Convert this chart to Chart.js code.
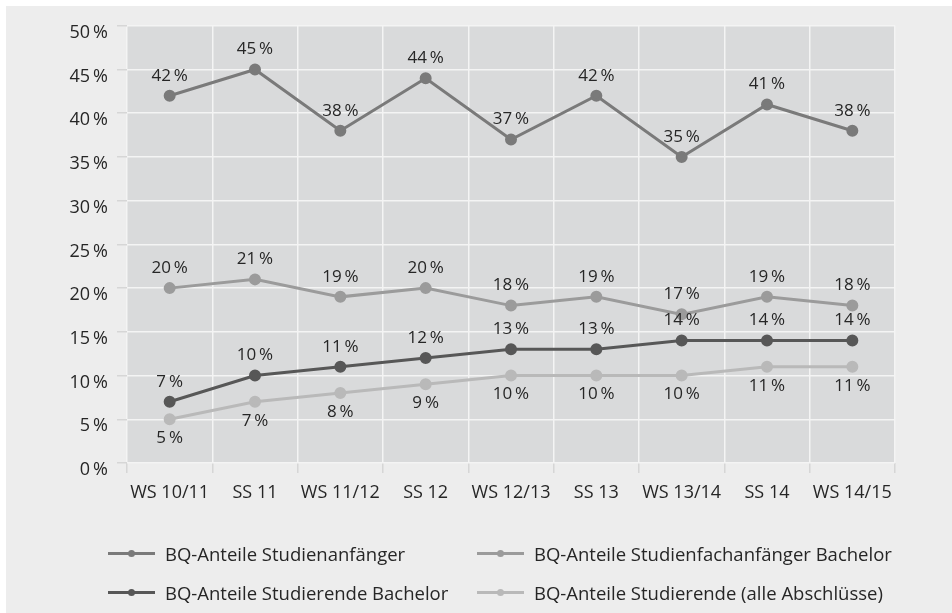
<!DOCTYPE html>
<html><head><meta charset="utf-8">
<script src="https://cdn.jsdelivr.net/npm/chart.js@4"></script>
<style>
html,body{margin:0;padding:0;background:#fff;width:952px;height:613px;overflow:hidden;}
#panel{position:absolute;left:6px;top:6px;width:946px;height:607px;background:#ededed;}
#c{position:absolute;left:0;top:0;}
.leg{position:absolute;font-family:"Open Sans",sans-serif;font-size:18.5px;color:#262626;white-space:nowrap;}
.leg .ln{position:absolute;left:0;top:50%;width:47px;height:3px;margin-top:-1.5px;}
.leg .dt{position:absolute;left:20px;top:50%;width:7px;height:7px;margin-top:-3.5px;border-radius:50%;}
.leg .tx{position:absolute;left:57px;top:50%;transform:translateY(-50%);}
</style></head>
<body>
<div id="panel"><canvas id="c" width="946" height="607"></canvas><div id="legend"></div></div>
<script>
const categories = ["WS 10/11","SS 11","WS 11/12","SS 12","WS 12/13","SS 13","WS 13/14","SS 14","WS 14/15"];
const studienanfaenger = [42,45,38,44,37,42,35,41,38];
const fachanfaengerBachelor = [20,21,19,20,18,19,17,19,18];
const studierendeBachelor = [7,10,11,12,13,13,14,14,14];
const studierendeAlle = [5,7,8,9,10,10,10,11,11];
const seriesNames = ["BQ-Anteile Studienanfänger","BQ-Anteile Studienfachanfänger Bachelor","BQ-Anteile Studierende Bachelor","BQ-Anteile Studierende (alle Abschlüsse)"];
const seriesColors = ["#7a7a7a","#9b9b9b","#575757","#b9b9b9"];
const labelBelow = [false,false,false,true];
const allValues = [studienanfaenger,fachanfaengerBachelor,studierendeBachelor,studierendeAlle];

const FONT = '"Open Sans", sans-serif';
const TXT = '#262626';

const bgPlugin = {
  id:'plotBg',
  beforeDraw(chart){
    const {ctx, chartArea:a} = chart;
    ctx.save(); ctx.fillStyle='#d9dadb';
    ctx.fillRect(a.left,a.top,a.right-a.left,a.bottom-a.top);
    ctx.restore();
  }
};
const labelPlugin = {
  id:'valLabels',
  afterDatasetsDraw(chart){
    const ctx = chart.ctx;
    ctx.save();
    ctx.font = '17px ' + FONT;
    ctx.fillStyle = TXT;
    ctx.textAlign='center'; ctx.textBaseline='middle';
    chart.data.datasets.forEach((ds,i)=>{
      const meta = chart.getDatasetMeta(i);
      meta.data.forEach((pt,j)=>{
        const off = labelBelow[i] ? 19 : -20;
        ctx.fillText(ds.data[j] + '\u2009%', pt.x, pt.y + off);
      });
    });
    ctx.restore();
  }
};

new Chart(document.getElementById('c'), {
  type:'line',
  data:{
    labels: categories,
    datasets: allValues.map((v,i)=>({
      label: seriesNames[i], data: v,
      borderColor: seriesColors[i], backgroundColor: seriesColors[i],
      borderWidth: 3, pointRadius: 4.5, pointHoverRadius: 4.5, tension: 0, fill:false
    }))
  },
  options:{
    responsive:false, animation:false, devicePixelRatio:1,
    layout:{padding:{left:0,right:57,top:19,bottom:110}},
    plugins:{legend:{display:false}, tooltip:{enabled:false}},
    scales:{
      x:{
        offset:true,
        grid:{offset:true, color:'#f4f4f4', lineWidth:1.5, tickLength:10, tickColor:'#d6d6d6', drawOnChartArea:true},
        border:{display:false},
        ticks:{color:TXT, font:{family:FONT, size:18}, padding:9, maxRotation:0},
        afterFit(s){ s.height = 40; }
      },
      y:{
        min:0, max:50,
        grid:{color:'#f4f4f4', lineWidth:1.5, tickLength:10, tickColor:'#d6d6d6'},
        border:{display:false},
        ticks:{stepSize:5, color:TXT, font:{family:FONT, size:18}, padding:9, labelOffset:7,
          callback:(v)=>v + '\u2009%'},
        afterFit(s){ s.width = 121; }
      }
    }
  },
  plugins:[bgPlugin, labelPlugin]
});

const legPos = [[102,547],[471,547],[102,586],[471,586]];
const legEl = document.getElementById('legend');
seriesNames.forEach((n,i)=>{
  const d = document.createElement('div');
  d.className='leg';
  d.style.left = legPos[i][0]+'px'; d.style.top = (legPos[i][1]-12)+'px'; d.style.height='24px';
  d.innerHTML = '<span class="ln" style="background:'+seriesColors[i]+'"></span><span class="dt" style="background:'+seriesColors[i]+'"></span><span class="tx">'+n+'</span>';
  legEl.appendChild(d);
});
</script>
</body></html>
